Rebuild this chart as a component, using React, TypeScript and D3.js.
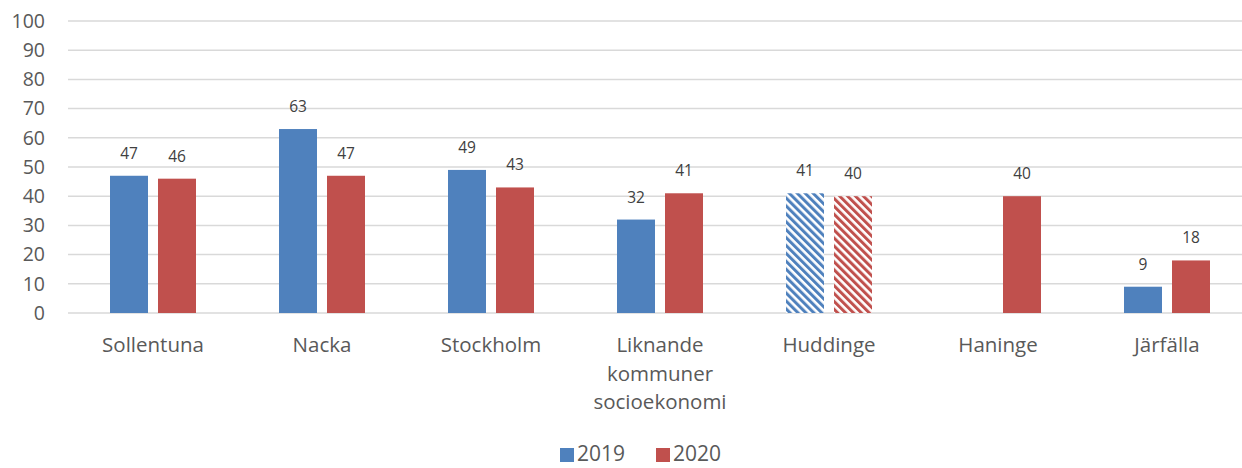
import { useEffect, useRef } from "react";
import * as d3 from "d3";

const categories = ["Sollentuna", "Nacka", "Stockholm", "Liknande\nkommuner\nsocioekonomi", "Huddinge", "Haninge", "Järfälla"];
const values2019: (number | null)[] = [47, 63, 49, 32, 41, null, 9];
const values2020: (number | null)[] = [46, 47, 43, 41, 40, 40, 18];
const hatched = ["Huddinge"];
const seriesNames = ["2019", "2020"];
const colors = ["#4f81bd", "#c0504d"];
const yTicks = [0, 10, 20, 30, 40, 50, 60, 70, 80, 90, 100];

export default function App() {
    const ref = useRef<SVGSVGElement>(null);

    useEffect(() => {
        const width = 1242;
        const height = 468;
        const font = "'Open Sans', Lato, sans-serif";
        const textColor = "#595959";

        const svg = d3.select(ref.current)
            .attr("width", width)
            .attr("height", height);

        svg.selectAll("*").remove();

        // hatch patterns for the hatched category
        const defs = svg.append("defs");
        colors.forEach((c, i) => {
            const p = defs.append("pattern")
                .attr("id", "hatch" + i)
                .attr("patternUnits", "userSpaceOnUse")
                .attr("width", 5.6)
                .attr("height", 5.6)
                .attr("patternTransform", "rotate(-45)");
            p.append("rect").attr("width", 5.6).attr("height", 5.6).attr("fill", "#fff");
            p.append("rect").attr("width", 3).attr("height", 5.6).attr("fill", c);
        });

        const x = d3.scaleBand()
            .domain(categories)
            .range([68.5, 1251.5]);

        const y = d3.scaleLinear()
            .domain([0, 100])
            .range([313, 21]);

        // gridlines
        svg.append("g")
            .selectAll("line")
            .data(yTicks)
            .join("line")
            .attr("x1", 68)
            .attr("x2", width)
            .attr("y1", d => y(d))
            .attr("y2", d => y(d))
            .attr("stroke", "#d9d9d9")
            .attr("stroke-width", 1.5);

        // y tick labels
        svg.append("g")
            .selectAll("text")
            .data(yTicks)
            .join("text")
            .attr("x", 45)
            .attr("y", d => y(d))
            .attr("dy", "0.35em")
            .attr("text-anchor", "end")
            .attr("font-family", font)
            .attr("font-size", 19.5)
            .attr("fill", textColor)
            .text(d => d);

        const series = [values2019, values2020];
        const barW = 38;
        const offsets = [-43, 5];

        series.forEach((vals, si) => {
            const data = categories.map((c, i) => ({ c, v: vals[i] })).filter(d => d.v != null) as { c: string; v: number }[];
            const g = svg.append("g");
            g.selectAll("rect")
                .data(data)
                .join("rect")
                .attr("x", d => x(d.c)! + x.bandwidth() / 2 + offsets[si])
                .attr("width", barW)
                .attr("y", d => y(d.v))
                .attr("height", d => y(0) - y(d.v))
                .attr("fill", d => hatched.includes(d.c) ? `url(#hatch${si})` : colors[si]);

            g.selectAll("text")
                .data(data)
                .join("text")
                .attr("x", d => x(d.c)! + x.bandwidth() / 2 + offsets[si] + barW / 2)
                .attr("y", d => y(d.v) - 17)
                .attr("text-anchor", "middle")
                .attr("font-family", font)
                .attr("font-size", 15.5)
                .attr("fill", "#404040")
                .text(d => d.v);
        });

        // category labels
        const cat = svg.append("g")
            .selectAll("text")
            .data(categories)
            .join("text")
            .attr("x", d => x(d)! + x.bandwidth() / 2)
            .attr("y", 352)
            .attr("text-anchor", "middle")
            .attr("font-family", font)
            .attr("font-size", 20.5)
            .attr("fill", textColor);
        cat.each(function (d) {
            const t = d3.select(this);
            d.split("\n").forEach((line, i) => {
                t.append("tspan")
                    .attr("x", x(d)! + x.bandwidth() / 2)
                    .attr("dy", i === 0 ? 0 : 28.5)
                    .text(line);
            });
        });

        // legend
        const legendX = [560, 656];
        seriesNames.forEach((name, i) => {
            svg.append("rect")
                .attr("x", legendX[i])
                .attr("y", 448)
                .attr("width", 14)
                .attr("height", 14)
                .attr("fill", colors[i]);
            svg.append("text")
                .attr("x", legendX[i] + 17)
                .attr("y", 461)
                .attr("font-family", font)
                .attr("font-size", 21)
                .attr("fill", textColor)
                .text(name);
        });
    }, []);

    return <svg ref={ref} style={{ position: "absolute", left: 0, top: 0 }}></svg>;
}
